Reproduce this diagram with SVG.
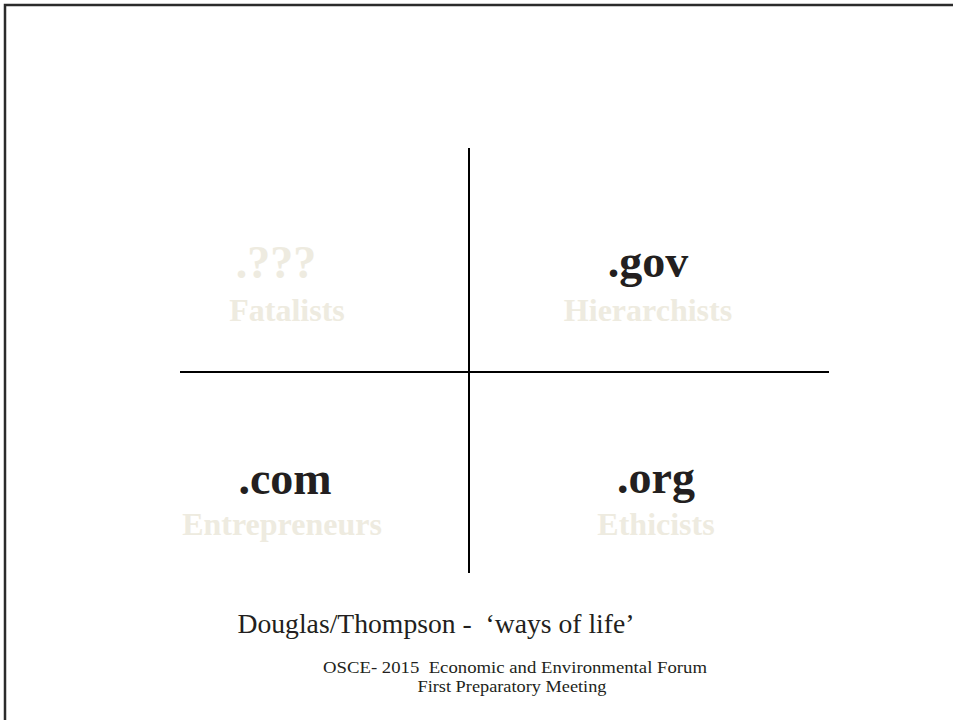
<svg xmlns="http://www.w3.org/2000/svg" width="953" height="720" viewBox="0 0 953 720">
<style>
.dom{font-family:"Liberation Serif","Times New Roman",serif;font-weight:bold;font-size:46px;fill:#231f20;text-anchor:middle}
.dom.faint{fill:#eeebe0}
.lab{font-family:"Liberation Serif","Times New Roman",serif;font-weight:bold;font-size:32px;fill:#eeebe0;text-anchor:middle}
.cap{font-family:"Liberation Serif","Times New Roman",serif;fill:#231f20;text-anchor:middle}
.axis{stroke:#000;stroke-width:2;fill:none}
</style>
<rect width="953" height="720" fill="#fff"/>
<path d="M5,720 V5 H953" fill="none" stroke="#2b2b2b" stroke-width="2.5"/>
<g id="connectors">
<line class="axis" x1="469" y1="148" x2="469" y2="573"/>
<line class="axis" x1="180" y1="372" x2="829" y2="372"/>
</g>
<g id="fatalists">
<text class="dom faint" x="276" y="278">.???</text>
<text class="lab" x="287" y="321">Fatalists</text>
</g>
<g id="hierarchists">
<text class="dom" x="648" y="277">.gov</text>
<text class="lab" x="648" y="321">Hierarchists</text>
</g>
<g id="entrepreneurs">
<text class="dom" x="285" y="494">.com</text>
<text class="lab" x="282" y="535">Entrepreneurs</text>
</g>
<g id="ethicists">
<text class="dom" x="656" y="493">.org</text>
<text class="lab" x="656" y="535">Ethicists</text>
</g>
<g id="caption">
<text class="cap" x="436" y="633" font-size="28" textLength="397" lengthAdjust="spacingAndGlyphs" xml:space="preserve">Douglas/Thompson -  ‘ways of life’</text>
<text class="cap" x="515" y="673" font-size="17" textLength="384" lengthAdjust="spacingAndGlyphs" xml:space="preserve">OSCE- 2015  Economic and Environmental Forum</text>
<text class="cap" x="512" y="692" font-size="17" textLength="189" lengthAdjust="spacingAndGlyphs">First Preparatory Meeting</text>
</g>
</svg>
